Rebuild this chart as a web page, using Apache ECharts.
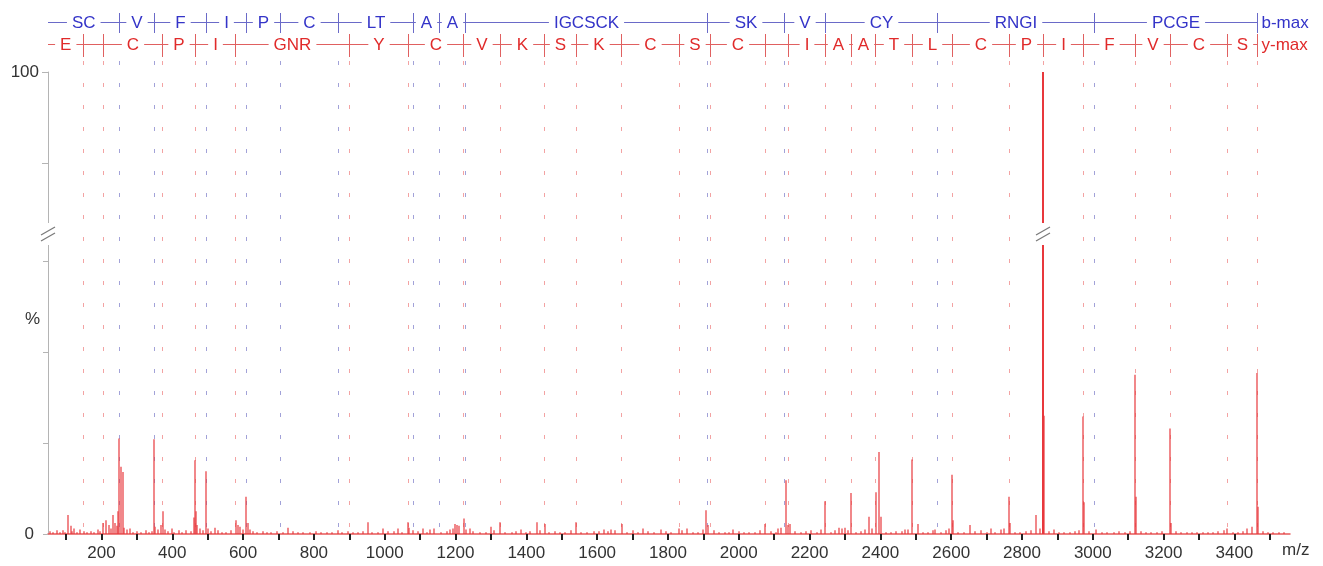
<!DOCTYPE html>
<html>
<head>
<meta charset="utf-8">
<script src="https://cdn.jsdelivr.net/npm/echarts@6/dist/echarts.min.js"></script>
<style>
html, body { margin: 0; padding: 0; background: #ffffff; }
#chart { width: 1323px; height: 566px; }
</style>
</head>
<body>
<div id="chart"></div>
<script>
// ---------------- DATA ----------------
// x axis (m/z)
const xTickValues = [100, 200, 300, 400, 500, 600, 700, 800, 900, 1000, 1100, 1200, 1300, 1400, 1500, 1600, 1700, 1800, 1900, 2000, 2100, 2200, 2300, 2400, 2500, 2600, 2700, 2800, 2900, 3000, 3100, 3200, 3300, 3400, 3500];
const xLabelValues = [200, 400, 600, 800, 1000, 1200, 1400, 1600, 1800, 2000, 2200, 2400, 2600, 2800, 3000, 3200, 3400];
// y axis (%), broken between the two panels
const lowerYTicks = [0, 10, 20, 30];
const lowerYLabels = [0];
const upperYTicks = [90, 100];
const upperYLabels = [100];

// b-ion ladder: m/z of each b-ion tick and the residues between the previous tick and this one
const bIonMz = [249, 349, 496, 609, 704, 869, 1080, 1152, 1227, 1910, 2128, 2245, 2560, 3002, 3464];
const bResidues = ['SC', 'V', 'F', 'I', 'P', 'C', 'LT', 'A', 'A', 'IGCSCK', 'SK', 'V', 'CY', 'RNGI', 'PCGE'];
const bEndLabel = 'b-max';

// y-ion ladder
const yIonMz = [147, 205, 372, 464, 578, 900, 1066, 1222, 1326, 1450, 1540, 1668, 1830, 1919, 2075, 2138, 2245, 2316, 2385, 2489, 2602, 2762, 2858, 2972, 3120, 3219, 3379, 3464];
const yResidues = ['E', '', 'C', 'P', 'I', 'GNR', 'Y', 'C', 'V', 'K', 'S', 'K', 'C', 'S', 'C', '', 'I', 'A', 'A', 'T', 'L', 'C', 'P', 'I', 'F', 'V', 'C', 'S'];
const yEndLabel = 'y-max';

// main peaks [m/z, relative intensity %]
const majorPeaks = [
  [106.5, 2.1], [114, 0.9], [123, 0.6], [205, 1.2], [214, 1.5], [220, 1.0], [232, 2.1], [238, 1.2],
  [247, 2.5], [249, 10.5], [255, 7.4], [260, 6.8], [265, 0.7], [280, 0.6],
  [349, 10.4], [352, 0.8], [368, 1.0], [373, 2.5], [380, 0.5], [398, 0.6],
  [460, 1.8], [463.5, 8.1], [466, 2.5], [470, 1.0], [496, 6.9], [500, 0.6], [520, 0.7],
  [579, 1.5], [585, 1.0], [590, 0.8], [607.5, 4.1], [615, 1.2], [620, 0.5], [727, 0.7],
  [953, 1.3], [996, 0.6], [1037, 0.6], [1066, 1.3], [1070, 0.7], [1108, 0.6], [1140, 0.6],
  [1199, 1.1], [1204, 1.0], [1210, 0.9], [1224, 1.7], [1240, 0.6], [1300, 0.8], [1326, 1.3],
  [1385, 0.5], [1430, 1.3], [1452, 1.1], [1541, 1.3], [1640, 0.5], [1670, 1.1], [1730, 0.6],
  [1780, 0.5], [1830, 0.6], [1855, 0.6], [1908, 2.6], [1912, 1.0], [1985, 0.5], [2075, 1.1],
  [2120, 0.7], [2133, 5.9], [2138, 1.0], [2145, 1.1], [2245, 3.6], [2283, 0.7], [2300, 0.7],
  [2317, 4.5], [2369, 1.9], [2388, 4.6], [2397, 9.0], [2401, 1.9], [2470, 0.5], [2489, 8.2],
  [2505, 1.1], [2555, 0.5], [2602, 6.5], [2605, 1.5], [2654, 1.0], [2712, 0.6], [2750, 0.6],
  [2763, 4.1], [2767, 1.2], [2840, 2.1], [2858, 100], [2861, 13.0], [2890, 0.5],
  [2972, 12.9], [2975, 3.5], [3008, 0.5], [3120, 17.5], [3123, 4.1], [3219, 11.6], [3222, 1.2],
  [3380, 0.6], [3435, 0.6], [3450, 0.8], [3465, 17.7], [3468, 3.0]
];

// small baseline peaks [m/z, relative intensity %]
const noisePeaks = [
  [55, 0.3], [62, 0.2], [75, 0.4], [84, 0.2], [92, 0.4], [98, 0.2], [118, 0.3], [130, 0.2], [140, 0.5],
  [152, 0.3], [160, 0.2], [170, 0.3], [180, 0.2], [190, 0.5], [197, 0.3], [227, 0.6], [243, 0.9],
  [272, 0.5], [290, 0.2], [300, 0.3], [312, 0.2], [325, 0.4], [335, 0.2], [342, 0.3], [360, 0.5],
  [388, 0.3], [405, 0.2], [418, 0.4], [428, 0.2], [440, 0.4], [452, 0.3], [478, 0.6], [486, 0.4],
  [510, 0.3], [530, 0.4], [540, 0.2], [552, 0.2], [566, 0.4], [600, 0.5], [628, 0.3], [640, 0.2],
  [655, 0.3], [668, 0.2], [680, 0.2], [695, 0.3], [712, 0.2], [740, 0.3], [755, 0.2], [770, 0.2],
  [790, 0.2], [805, 0.3], [820, 0.2], [838, 0.2], [852, 0.2], [868, 0.4], [880, 0.2], [895, 0.3],
  [910, 0.2], [925, 0.2], [940, 0.3], [965, 0.2], [980, 0.2], [1010, 0.3], [1025, 0.3], [1050, 0.2],
  [1080, 0.4], [1095, 0.3], [1120, 0.2], [1128, 0.5], [1160, 0.2], [1175, 0.3], [1185, 0.5],
  [1192, 0.6], [1230, 0.5], [1250, 0.3], [1268, 0.2], [1285, 0.2], [1310, 0.4], [1340, 0.2],
  [1360, 0.2], [1372, 0.3], [1398, 0.2], [1410, 0.3], [1440, 0.4], [1465, 0.2], [1480, 0.3],
  [1495, 0.2], [1510, 0.2], [1525, 0.4], [1555, 0.2], [1570, 0.2], [1590, 0.3], [1605, 0.3],
  [1620, 0.5], [1632, 0.3], [1650, 0.4], [1685, 0.2], [1700, 0.4], [1715, 0.2], [1745, 0.3],
  [1760, 0.2], [1795, 0.3], [1810, 0.2], [1840, 0.4], [1870, 0.2], [1885, 0.2], [1898, 0.5],
  [1930, 0.4], [1945, 0.2], [1960, 0.2], [1972, 0.2], [2000, 0.3], [2015, 0.2], [2030, 0.2],
  [2045, 0.2], [2060, 0.4], [2090, 0.3], [2105, 0.2], [2112, 0.6], [2160, 0.3], [2175, 0.2],
  [2190, 0.3], [2205, 0.4], [2220, 0.2], [2232, 0.5], [2260, 0.2], [2272, 0.4], [2292, 0.6],
  [2308, 0.4], [2330, 0.2], [2345, 0.3], [2358, 0.5], [2375, 0.6], [2415, 0.2], [2430, 0.2],
  [2445, 0.3], [2460, 0.3], [2478, 0.5], [2520, 0.2], [2535, 0.2], [2548, 0.4], [2570, 0.2],
  [2585, 0.4], [2595, 0.6], [2620, 0.2], [2635, 0.2], [2668, 0.3], [2685, 0.4], [2700, 0.2],
  [2725, 0.2], [2740, 0.5], [2780, 0.2], [2795, 0.2], [2810, 0.3], [2825, 0.4], [2850, 0.6],
  [2875, 0.3], [2905, 0.2], [2920, 0.2], [2935, 0.2], [2950, 0.3], [2960, 0.4], [2990, 0.3],
  [3025, 0.2], [3040, 0.2], [3060, 0.2], [3075, 0.3], [3090, 0.2], [3105, 0.3], [3135, 0.3],
  [3150, 0.2], [3165, 0.2], [3180, 0.2], [3195, 0.3], [3235, 0.3], [3250, 0.2], [3265, 0.2],
  [3280, 0.2], [3295, 0.2], [3310, 0.2], [3325, 0.2], [3340, 0.2], [3355, 0.3], [3370, 0.4],
  [3395, 0.2], [3410, 0.2], [3425, 0.3], [3480, 0.3], [3495, 0.2], [3510, 0.2], [3525, 0.2], [3540, 0.2]
];

// ---------------- LAYOUT / STYLE ----------------
const FONT = '"Liberation Sans", Arial, Helvetica, sans-serif';
const X_MIN = 49, X_MAX = 3557;
const LOWER_MAX = 31.87;   // top of the lower panel (%)
const UPPER_MIN = 83.3;    // bottom of the upper panel (%)
const GRID_LEFT = 48, GRID_WIDTH = 1242;
const LOWER_TOP = 244, LOWER_H = 290;
const UPPER_TOP = 72, UPPER_H = 152;
const BREAK_Y = 234;
const B_ROW_Y = 23, B_TICK_TOP = 13, B_TICK_BOT = 33;
const Y_ROW_Y = 45, Y_TICK_TOP = 34, Y_TICK_BOT = 57;
const DOT_Y0 = 61, DOT_Y1 = 530;
const PEAK_COLOR = '#e8383c';
const BLUE_TEXT = '#3434c8', BLUE_LINE = '#6a6ac8', BLUE_DOT = '#a2a2d8';
const RED_TEXT = '#e02a2a', RED_LINE = '#e06060', RED_DOT = '#f3a3a3';
const LABEL_FONT = '17px ' + FONT;

const allPeaks = majorPeaks.concat(noisePeaks);
const bigPeaks = allPeaks.filter(p => p[1] > UPPER_MIN);

function crisp(x) { return Math.round(x) + 0.5; }

function peakRender(vMin, vMax) {
  return function (params, api) {
    const mz = api.value(0), v = api.value(1);
    if (v <= vMin) return null;
    const p0 = api.coord([mz, vMin]);
    const p1 = api.coord([mz, Math.min(v, vMax)]);
    const x = Math.round(p0[0]);
    const wide = v >= vMax;
    return {
      type: 'line',
      shape: { x1: x, y1: p0[1], x2: x, y2: p1[1] },
      style: { stroke: PEAK_COLOR, lineWidth: wide ? 2 : 1.2 }
    };
  };
}

function ladderRender(ions, residues, rowY, tickTop, tickBot, textColor, lineColor, dotColor, endLabel) {
  return function (params, api) {
    const i = params.dataIndex;
    const x = crisp(api.coord([ions[i], 0])[0]);
    const xPrev = i === 0 ? api.coord([X_MIN, 0])[0] : crisp(api.coord([ions[i - 1], 0])[0]);
    const children = [
      { type: 'line', z2: 0, shape: { x1: x, y1: DOT_Y0, x2: x, y2: DOT_Y1 },
        style: { stroke: dotColor, lineWidth: 1, lineDash: [4, 18] } },
      { type: 'line', z2: 1, shape: { x1: xPrev, y1: rowY - 0.5, x2: x, y2: rowY - 0.5 },
        style: { stroke: lineColor, lineWidth: 1 } },
      { type: 'line', z2: 3, shape: { x1: x, y1: tickTop, x2: x, y2: tickBot },
        style: { stroke: lineColor, lineWidth: 1 } }
    ];
    if (residues[i]) {
      children.push({ type: 'text', z2: 2, x: (xPrev + x) / 2, y: rowY,
        style: { text: residues[i], fill: textColor, font: LABEL_FONT, align: 'center',
                 verticalAlign: 'middle', backgroundColor: '#ffffff', padding: [1, 5] } });
    }
    if (i === ions.length - 1) {
      children.push({ type: 'text', z2: 2, x: x + 4, y: rowY,
        style: { text: endLabel, fill: textColor, font: LABEL_FONT, align: 'left', verticalAlign: 'middle' } });
    }
    return { type: 'group', children: children };
  };
}

function breakMarkRender(params, api) {
  const x = api.coord([api.value(0), 0])[0];
  const cx = Math.round(x);
  return {
    type: 'group',
    children: [
      { type: 'rect', shape: { x: cx - 3, y: BREAK_Y - 11, width: 6, height: 22 }, style: { fill: '#ffffff' } },
      { type: 'line', shape: { x1: cx - 7, y1: BREAK_Y + 1, x2: cx + 7, y2: BREAK_Y - 7 },
        style: { stroke: '#7a7a7a', lineWidth: 1.2 } },
      { type: 'line', shape: { x1: cx - 7, y1: BREAK_Y + 7, x2: cx + 7, y2: BREAK_Y - 1 },
        style: { stroke: '#7a7a7a', lineWidth: 1.2 } }
    ]
  };
}

const chart = echarts.init(document.getElementById('chart'), null, { renderer: 'canvas' });

const hiddenX = idx => ({ gridIndex: idx, type: 'value', min: X_MIN, max: X_MAX, show: false });
const plainNumber = v => String(v);

chart.setOption({
  animation: false,
  backgroundColor: '#ffffff',
  grid: [
    { left: GRID_LEFT, width: GRID_WIDTH, top: LOWER_TOP, height: LOWER_H, containLabel: false },
    { left: GRID_LEFT, width: GRID_WIDTH, top: UPPER_TOP, height: UPPER_H, containLabel: false },
    { left: GRID_LEFT, width: GRID_WIDTH, top: 0, height: 534, containLabel: false }
  ],
  xAxis: [
    {
      gridIndex: 0, type: 'value', min: X_MIN, max: X_MAX,
      axisLine: { show: true, onZero: false, lineStyle: { color: '#e65a5a', width: 1.5 } },
      axisTick: { show: true, customValues: xTickValues, length: 6, inside: false,
                  lineStyle: { color: '#222222', width: 2 } },
      axisLabel: { show: true, customValues: xLabelValues, color: '#333333', fontSize: 17,
                   fontFamily: FONT, margin: 11, formatter: plainNumber },
      splitLine: { show: false }
    },
    hiddenX(1),
    hiddenX(2)
  ],
  yAxis: [
    {
      gridIndex: 0, type: 'value', min: 0, max: LOWER_MAX,
      axisLine: { show: true, lineStyle: { color: '#b4b4b4', width: 1 } },
      axisTick: { show: true, customValues: lowerYTicks, length: 5, lineStyle: { color: '#b4b4b4' } },
      axisLabel: { show: true, customValues: lowerYLabels, color: '#333333', fontSize: 17,
                   fontFamily: FONT, margin: 14, formatter: plainNumber },
      splitLine: { show: false }
    },
    {
      gridIndex: 1, type: 'value', min: UPPER_MIN, max: 100,
      axisLine: { show: true, lineStyle: { color: '#b4b4b4', width: 1 } },
      axisTick: { show: true, customValues: upperYTicks, length: 6, lineStyle: { color: '#b4b4b4' } },
      axisLabel: { show: true, customValues: upperYLabels, color: '#333333', fontSize: 17,
                   fontFamily: FONT, margin: 9, formatter: plainNumber },
      splitLine: { show: false }
    },
    { gridIndex: 2, type: 'value', min: 0, max: 1, show: false }
  ],
  graphic: [
    { type: 'text', left: 25, top: 311, style: { text: '%', fill: '#333333', font: LABEL_FONT } },
    { type: 'text', left: 1282, top: 542, style: { text: 'm/z', fill: '#333333', font: LABEL_FONT } }
  ],
  series: [
    {
      type: 'custom', name: 'b ions', xAxisIndex: 2, yAxisIndex: 2, clip: false, z: 1,
      data: bIonMz.map(m => [m, 0]),
      encode: { x: 0, y: 1 },
      renderItem: ladderRender(bIonMz, bResidues, B_ROW_Y, B_TICK_TOP, B_TICK_BOT, BLUE_TEXT, BLUE_LINE, BLUE_DOT, bEndLabel)
    },
    {
      type: 'custom', name: 'y ions', xAxisIndex: 2, yAxisIndex: 2, clip: false, z: 1,
      data: yIonMz.map(m => [m, 0]),
      encode: { x: 0, y: 1 },
      renderItem: ladderRender(yIonMz, yResidues, Y_ROW_Y, Y_TICK_TOP, Y_TICK_BOT, RED_TEXT, RED_LINE, RED_DOT, yEndLabel)
    },
    {
      type: 'custom', name: 'spectrum', xAxisIndex: 0, yAxisIndex: 0, clip: false, z: 3,
      data: allPeaks, encode: { x: 0, y: 1 },
      renderItem: peakRender(0, LOWER_MAX)
    },
    {
      type: 'custom', name: 'spectrum (upper)', xAxisIndex: 1, yAxisIndex: 1, clip: false, z: 3,
      data: bigPeaks, encode: { x: 0, y: 1 },
      renderItem: peakRender(UPPER_MIN, 100)
    },
    {
      type: 'custom', name: 'breaks', xAxisIndex: 2, yAxisIndex: 2, clip: false, z: 5,
      data: [[X_MIN, 0]].concat(bigPeaks.map(p => [p[0], 0])),
      encode: { x: 0, y: 1 },
      renderItem: breakMarkRender
    }
  ]
});
</script>
</body>
</html>
